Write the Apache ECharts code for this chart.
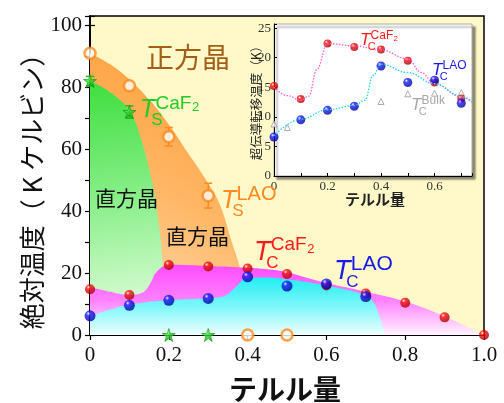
<!DOCTYPE html>
<html>
<head>
<meta charset="utf-8">
<script src="https://cdn.jsdelivr.net/npm/echarts@6/dist/echarts.min.js"></script>
<style>
  html, body { margin: 0; padding: 0; background: #fff; }
  #chart { width: 504px; height: 403px; }
</style>
</head>
<body>
<div id="chart"></div>
<script>
// ---- 相境界（メイン図） ----
const tsLaoEdgeX = [0, 0.05, 0.1, 0.15, 0.2, 0.25, 0.3, 0.33, 0.36, 0.38, 0.385];
const tsLaoEdgeY = [91, 87.5, 82.5, 76, 68, 58.5, 49, 42, 30, 22, 18];
const tsCaf2EdgeX = [0, 0.05, 0.1, 0.13, 0.155, 0.17, 0.18, 0.185, 0.19];
const tsCaf2EdgeY = [82, 78.5, 72.5, 63, 51, 40, 30, 22, 18];
const tcCaf2EdgeX = [0, 0.05, 0.1, 0.13, 0.15, 0.17, 0.2, 0.3, 0.4, 0.45, 0.5, 0.55, 0.6, 0.7, 0.8, 0.9, 1.0];
const tcCaf2EdgeY = [15.5, 14, 13, 13.5, 16, 20.5, 22.7, 22.3, 21.7, 21.2, 20.3, 18.5, 16.8, 14, 10.8, 6, 0];
const tcLaoEdgeX = [0, 0.05, 0.1, 0.2, 0.3, 0.34, 0.37, 0.4, 0.45, 0.5, 0.6, 0.7, 0.72, 0.735, 0.745, 0.75];
const tcLaoEdgeY = [6, 8.2, 9.8, 11.3, 11.9, 12.5, 15.5, 18.5, 18.6, 18, 16, 12.8, 10.5, 6, 2, 0];

// ---- 測定点（メイン図） ----
const tsLaoX = [0, 0.1, 0.2, 0.3, 0.4, 0.5];
const tsLaoY = [91, 80.5, 64, 45, 0, 0];
const tsLaoErr = [0, 0, 3, 4, 0, 0];
const tsCaf2X = [0, 0.1, 0.2, 0.3];
const tsCaf2Y = [82, 72, 0, 0];
const tsCaf2Err = [1.5, 2, 0, 0];
const tcCaf2X = [0, 0.1, 0.2, 0.3, 0.4, 0.5, 0.6, 0.7, 0.8, 0.9, 1.0];
const tcCaf2Y = [14.8, 12.9, 22.6, 22.1, 21.5, 19.7, 16, 13.4, 10.4, 5.7, 0];
const tcLaoX = [0, 0.1, 0.2, 0.3, 0.4, 0.5, 0.6, 0.7];
const tcLaoY = [6.2, 9.6, 11.2, 11.8, 18.8, 15.8, 16.5, 12.4];

// ---- 挿入図 ----
const inCaf2X = [0, 0.1, 0.2, 0.3, 0.4, 0.5, 0.6, 0.7];
const inCaf2Y = [15.2, 13.0, 22.4, 21.8, 21.4, 19.5, 15.8, 13.1];
const inLaoX = [0, 0.1, 0.2, 0.3, 0.4, 0.5, 0.6, 0.7];
const inLaoY = [6.6, 9.5, 11.1, 11.8, 18.6, 15.8, 16.2, 12.3];
const inBulkX = [0, 0.05, 0.4, 0.5, 0.6, 0.7];
const inBulkY = [8.8, 8.2, 12.6, 13.9, 14.0, 14.1];
const inCaf2CurveX = [0, 0.05, 0.1, 0.13, 0.16, 0.2, 0.3, 0.4, 0.5, 0.55, 0.6, 0.7, 0.74];
const inCaf2CurveY = [15, 13.6, 12.8, 13.5, 18, 22.4, 22, 21.3, 19.8, 17.5, 15.6, 13.4, 12.5];
const inLaoCurveX = [0, 0.1, 0.2, 0.3, 0.34, 0.37, 0.4, 0.5, 0.6, 0.7, 0.74];
const inLaoCurveY = [6.8, 9.6, 11.2, 11.9, 12.8, 17, 18.9, 17.5, 15.6, 13.5, 12.6];

const zip = (xs, ys) => xs.map((x, i) => [x, ys[i]]);
const zip3 = (xs, ys, es) => xs.map((x, i) => [x, ys[i], es[i]]);

const chart = echarts.init(document.getElementById("chart"));

// 球状マーカー
function ball(c, dark) {
  return new echarts.graphic.RadialGradient(0.35, 0.3, 0.75, [
    { offset: 0, color: "#ffffff" },
    { offset: 0.25, color: c },
    { offset: 1, color: dark },
  ]);
}
const star = "path://M50,0 L61,35 L98,35 L68,57 L79,91 L50,70 L21,91 L32,57 L2,35 L39,35 Z";

function area(xs, ys, grad) {
  return {
    type: "line",
    xAxisIndex: 0,
    yAxisIndex: 0,
    data: zip(xs, ys),
    smooth: 0.4,
    symbol: "none",
    lineStyle: { width: 0 },
    areaStyle: { color: grad, opacity: 1 },
    silent: true,
  };
}
function lin(x, y, x2, y2, stops) {
  return new echarts.graphic.LinearGradient(x, y, x2, y2,
    stops.map((c, i) => ({ offset: i / (stops.length - 1), color: c })));
}
function errBars(xs, ys, es, color) {
  return {
    type: "custom",
    xAxisIndex: 0,
    yAxisIndex: 0,
    data: zip3(xs, ys, es),
    z: 4,
    renderItem: function (params, api) {
      const e = api.value(2);
      if (!e) return;
      const top = api.coord([api.value(0), api.value(1) + e]);
      const bot = api.coord([api.value(0), api.value(1) - e]);
      const s = { stroke: color, lineWidth: 1.5 };
      return {
        type: "group",
        children: [
          { type: "line", shape: { x1: top[0], y1: top[1], x2: bot[0], y2: bot[1] }, style: s },
          { type: "line", shape: { x1: top[0] - 4, y1: top[1], x2: top[0] + 4, y2: top[1] }, style: s },
          { type: "line", shape: { x1: bot[0] - 4, y1: bot[1], x2: bot[0] + 4, y2: bot[1] }, style: s },
        ],
      };
    },
  };
}

// テキスト
function txt(x, y, text, size, color, opt) {
  opt = opt || {};
  const fam = opt.fam || '"Liberation Sans", Arial, sans-serif';
  return {
    type: "text",
    x: x,
    y: y,
    rotation: opt.rot || 0,
    z: 100,
    style: {
      text: text,
      font: (opt.italic ? "italic " : "") + (opt.bold ? "bold " : "") + size + "px " + fam,
      fill: color,
      textAlign: opt.align || "left",
      textVerticalAlign: "middle",
      align: opt.align || "left",
      verticalAlign: "middle",
    },
  };
}
const jp = '"Noto Sans CJK JP", sans-serif';
function symLabel(x, y, sizes, sub, sup, two, color) {
  // sizes: [T, sub, sup]
  const out = [
    txt(x, y, "T", sizes[0], color, { italic: true }),
    txt(x + sizes[0] * 0.45, y + sizes[0] * 0.42, sub, sizes[1], color),
    txt(x + sizes[0] * 0.62, y - sizes[0] * 0.25, sup, sizes[2], color),
  ];
  if (two) out.push(txt(x + sizes[0] * 0.62 + sizes[2] * 1.92, y - sizes[0] * 0.1, "2", Math.round(sizes[2] * 0.7), color));
  return out;
}

const axisCommon = {
  axisLine: { lineStyle: { color: "#000", width: 1.5 } },
  axisTick: { inside: true, length: 5, lineStyle: { color: "#000", width: 1.2 } },
  splitLine: { show: false },
};

const option = {
  animation: false,
  grid: [
    { left: 90, top: 16, width: 394, height: 319, show: true, backgroundColor: "#FFF9C9", borderColor: "#000", borderWidth: 1.5 },
    {
      left: 274, top: 24, width: 198, height: 152, show: true, backgroundColor: "#ffffff",
      borderColor: "#aaa", borderWidth: 1, shadowColor: "rgba(0,0,0,0.45)", shadowBlur: 2, shadowOffsetX: 3, shadowOffsetY: 3,
    },
  ],
  xAxis: [
    Object.assign({}, axisCommon, {
      type: "value", gridIndex: 0, min: 0, max: 1, interval: 0.1,
      axisLabel: {
        margin: 10, fontSize: 21, color: "#111", fontFamily: '"Liberation Serif", serif',
        formatter: v => (Math.abs(v * 5 - Math.round(v * 5)) < 1e-6 ? (v === 1 ? "1.0" : String(+v.toFixed(1))) : ""),
      },
    }),
    Object.assign({}, axisCommon, {
      type: "value", gridIndex: 0, position: "top", min: 0, max: 1, interval: 0.2, axisLabel: { show: false },
    }),
    Object.assign({}, axisCommon, {
      type: "value", gridIndex: 1, min: 0, max: 0.74, interval: 0.1,
      axisLine: { lineStyle: { color: "#000", width: 1 } },
      axisTick: { inside: true, length: 3, lineStyle: { color: "#000", width: 1 } },
      axisLabel: {
        margin: 4, fontSize: 13, color: "#333", fontFamily: '"Liberation Serif", serif',
        formatter: v => (Math.abs(v * 5 - Math.round(v * 5)) < 1e-6 && v < 0.7 ? String(+v.toFixed(1)) : ""),
      },
    }),
  ],
  yAxis: [
    Object.assign({}, axisCommon, {
      type: "value", gridIndex: 0, min: 0, max: 103, interval: 10,
      axisLabel: {
        margin: 8, fontSize: 21, color: "#111", fontFamily: '"Liberation Serif", serif',
        formatter: v => (v % 20 === 0 && v <= 100 ? String(v) : ""),
      },
    }),
    Object.assign({}, axisCommon, {
      type: "value", gridIndex: 0, position: "right", min: 0, max: 103, interval: 10, axisLabel: { show: false },
    }),
    Object.assign({}, axisCommon, {
      type: "value", gridIndex: 1, min: 0, max: 25.7, interval: 5,
      axisLine: { lineStyle: { color: "#000", width: 1 } },
      axisTick: { inside: true, length: 3, lineStyle: { color: "#000", width: 1 } },
      axisLabel: {
        margin: 3, fontSize: 13, color: "#333", fontFamily: '"Liberation Serif", serif',
        formatter: v => (v % 5 === 0 && v <= 25 ? String(v) : ""),
      },
    }),
  ],
  series: [
    // 相図の塗り
    area(tsLaoEdgeX, tsLaoEdgeY, lin(0, 1, 1, 0, ["#FFE6C4", "#FFB766", "#FF9A33"])),
    area(tsCaf2EdgeX, tsCaf2EdgeY, lin(0.2, 0, 0.6, 1, ["#3FDF3F", "#8FF08F", "#EEFFE8"])),
    area(tcCaf2EdgeX, tcCaf2EdgeY, lin(0, 0, 0, 1, ["#FF4CFF", "#FF80FF", "#FFF4FF"])),
    area(tcLaoEdgeX, tcLaoEdgeY, lin(0, 0, 0, 1, ["#22EEF2", "#7DF7FA", "#F0FFFF"])),
    // 構造相転移
    errBars(tsLaoX, tsLaoY, tsLaoErr, "#FF8A1E"),
    errBars(tsCaf2X, tsCaf2Y, tsCaf2Err, "#22BB22"),
    {
      type: "scatter", xAxisIndex: 0, yAxisIndex: 0, data: zip(tsLaoX, tsLaoY), clip: false, z: 5,
      symbol: "circle", symbolSize: 11,
      itemStyle: { color: "#fff", borderColor: "#FF8A1E", borderWidth: 2.5 },
    },
    {
      type: "scatter", xAxisIndex: 0, yAxisIndex: 0, data: zip(tsCaf2X, tsCaf2Y), clip: false, z: 5,
      symbol: star, symbolSize: 13,
      itemStyle: { color: ball("#33DD33", "#119911"), borderColor: "#119911", borderWidth: 0.8 },
    },
    // 超伝導
    {
      type: "scatter", xAxisIndex: 0, yAxisIndex: 0, data: zip(tcCaf2X, tcCaf2Y), clip: false, z: 5,
      symbolSize: 10, itemStyle: { color: ball("#FF1010", "#A00000") },
    },
    {
      type: "scatter", xAxisIndex: 0, yAxisIndex: 0, data: zip(tcLaoX, tcLaoY), clip: false, z: 6,
      symbolSize: 11, itemStyle: { color: ball("#1A1AFF", "#000090") },
    },
    // 挿入図
    {
      type: "line", xAxisIndex: 2, yAxisIndex: 2, data: zip(inCaf2CurveX, inCaf2CurveY), smooth: 0.4, smoothMonotone: "x",
      symbol: "none", lineStyle: { color: "#FF5CD6", width: 1.3, type: [1.5, 1.5] },
    },
    {
      type: "line", xAxisIndex: 2, yAxisIndex: 2, data: zip(inLaoCurveX, inLaoCurveY), smooth: 0.4, smoothMonotone: "x",
      symbol: "none", lineStyle: { color: "#22D4EE", width: 1.3, type: [1.5, 1.5] },
    },
    {
      type: "scatter", xAxisIndex: 2, yAxisIndex: 2, data: zip(inBulkX, inBulkY), clip: false,
      symbol: "triangle", symbolSize: 6, itemStyle: { color: "#fff", borderColor: "#999", borderWidth: 1 },
    },
    {
      type: "scatter", xAxisIndex: 2, yAxisIndex: 2, data: zip(inCaf2X, inCaf2Y), clip: false,
      symbolSize: 8, itemStyle: { color: ball("#FF1010", "#A00000") },
    },
    {
      type: "scatter", xAxisIndex: 2, yAxisIndex: 2, data: zip(inLaoX, inLaoY), clip: false,
      symbolSize: 9, itemStyle: { color: ball("#1A1AFF", "#000090") },
    },
  ],
  graphic: [].concat(
    [
      txt(188, 57, "正方晶", 28, "#A35F18", { fam: jp, align: "center" }),
      txt(95, 198, "直方晶", 21, "#111", { fam: jp }),
      txt(166, 236, "直方晶", 21, "#111", { fam: jp }),
      txt(32, 185, "絶対温度（ K ケルビン）", 26, "#111", { fam: jp, align: "center", rot: Math.PI / 2 }),
      txt(285, 389, "テルル量", 28, "#111", { fam: jp, align: "center", bold: true }),
      txt(256, 100, "超伝導転移温度（K）", 12.5, "#222", { fam: jp, align: "center", rot: Math.PI / 2 }),
      txt(375, 199, "テルル量", 15, "#222", { fam: jp, align: "center", bold: true }),
    ],
    symLabel(140, 110, [25, 17, 19], "S", "CaF", true, "#22CC22"),
    symLabel(221, 201, [25, 17, 20], "S", "LAO", false, "#FF8A1E"),
    symLabel(254, 252, [27, 17, 19], "C", "CaF", true, "#FF1A1A"),
    symLabel(334, 271, [27, 17, 21], "C", "LAO", false, "#1A1AE6"),
    symLabel(360, 40, [17, 11, 12], "C", "CaF", true, "#FF1A1A"),
    symLabel(432, 70, [17, 11, 12], "C", "LAO", false, "#1A1AE6"),
    symLabel(411, 105, [17, 11, 12], "C", "Bulk", false, "#A8A8A8")
  ),
};
chart.setOption(option);
</script>
</body>
</html>
